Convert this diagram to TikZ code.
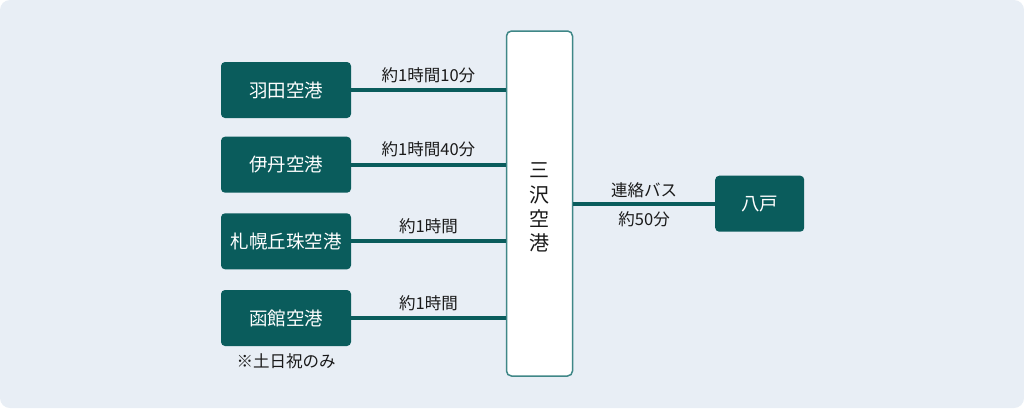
\documentclass[tikz,border=0pt]{standalone}
\usepackage{fontspec}
\setmainfont{Noto Sans CJK JP}
\usetikzlibrary{positioning}
\definecolor{haikei}{HTML}{E8EEF5}
\definecolor{fukamidori}{HTML}{0A5C5C}
\definecolor{waku}{HTML}{3F8787}
\definecolor{moji}{HTML}{1A1A1A}
\tikzset{
  kuukou/.style={fill=fukamidori,text=white,rounded corners=4pt,minimum width=130pt,minimum height=56pt,font=\fontsize{18.5}{21}\selectfont},
  hub/.style={fill=white,draw=waku,line width=1.5pt,rounded corners=5pt,minimum width=66pt,minimum height=345pt},
  hubmoji/.style={align=center,text=moji,font=\fontsize{20}{24.3}\selectfont},
  rosen/.style={draw=fukamidori,line width=4pt},
  jikan/.style={text=moji,font=\fontsize{16.5}{19}\selectfont}
}
\begin{document}
\begin{tikzpicture}[x=1pt,y=-1pt]
   % 背景
   \useasboundingbox (0,0) rectangle (1024,408);
   \fill[white] (0,0) rectangle (1024,408);
   \fill[haikei,rounded corners=10pt] (0,0) rectangle (1024,408);

   % 出発空港
   \node[kuukou] (haneda) at (286,90) {羽田空港};
   \node[kuukou] (itami) at (286,164.7) {伊丹空港};
   \node[kuukou] (okadama) at (286,241.3) {札幌丘珠空港};
   \node[kuukou] (hakodate) at (286,318) {函館空港};
   \node[jikan,below=3.5pt of hakodate] (donichi) {※土日祝のみ};

   % 三沢空港・八戸
   \node[hub] (misawa) at (539.5,203.5) {};
   \node[hubmoji] (misawamoji) at ([yshift=-4pt]misawa.center) {三\\沢\\空\\港};
   \node[kuukou,minimum width=89pt] (hachinohe) at (759.7,203.7) {八戸};

   \draw[rosen] (haneda.east) -- (haneda.east -| misawa.west) node[jikan,midway,above=2pt] (j1) {約1時間10分};
   \draw[rosen] (itami.east) -- (itami.east -| misawa.west) node[jikan,midway,above=2pt] (j2) {約1時間40分};
   \draw[rosen] (okadama.east) -- (okadama.east -| misawa.west) node[jikan,midway,above=2pt] (j3) {約1時間};
   \draw[rosen] (hakodate.east) -- (hakodate.east -| misawa.west) node[jikan,midway,above=2pt] (j4) {約1時間};
   \draw[rosen] (misawa.east |- hachinohe.west) -- (hachinohe.west) node[jikan,midway,above=1pt] (bus) {連絡バス} node[jikan,midway,below=2.5pt] (j5) {約50分};
\end{tikzpicture}
\end{document}
